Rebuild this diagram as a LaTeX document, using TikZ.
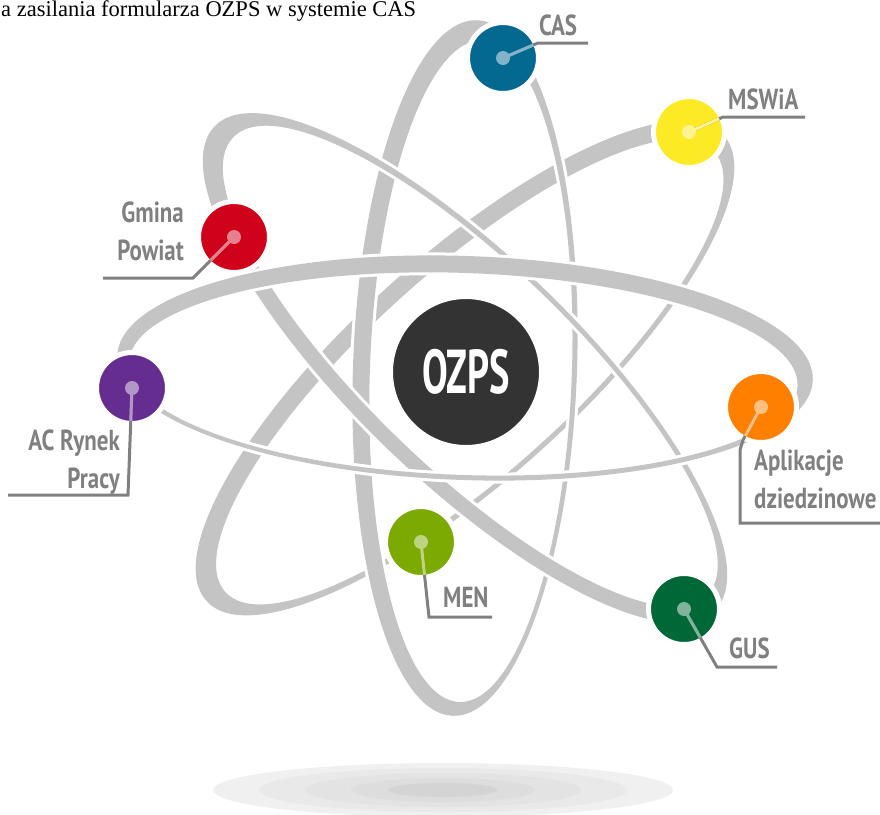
\documentclass[tikz,border=0pt]{standalone}
\usepackage{fontspec}
\setmainfont{Liberation Serif}
\newfontfamily\labfont{PT Sans}[FakeStretch=0.79]
\newfontfamily\ozfont{PT Sans}[FakeStretch=0.62]
\definecolor{orbitgray}{RGB}{196,196,196}
\definecolor{labelgray}{RGB}{128,128,128}
\definecolor{ozgray}{RGB}{51,51,51}
\definecolor{cascol}{RGB}{4,105,145}
\definecolor{mswcol}{RGB}{252,234,36}
\definecolor{gmicol}{RGB}{208,2,27}
\definecolor{accol}{RGB}{102,45,145}
\definecolor{aplcol}{RGB}{255,128,0}
\definecolor{mencol}{RGB}{124,170,0}
\definecolor{guscol}{RGB}{0,104,55}
\definecolor{shA}{RGB}{240,240,240}
\definecolor{shB}{RGB}{233,233,233}
\definecolor{shC}{RGB}{227,227,227}
\definecolor{shD}{RGB}{221,221,221}
\definecolor{shE}{RGB}{212,212,212}
\tikzset{
  orbitfill/.style={fill=orbitgray, even odd rule},
  orbitgap/.style={draw=white, line width=6pt},
  planet/.style={circle, fill=#1, draw=white, line width=5pt, minimum size=71pt, inner sep=0pt},
  pdot/.style={circle, fill=#1!50!white, minimum size=14pt, inner sep=0pt},
  pointer/.style={draw=labelgray, line width=3pt},
  ptint/.style={draw=#1!50!white, line width=3pt},
  labeltext/.style={text=labelgray, font=\labfont\bfseries\fontsize{29}{38}\selectfont, inner sep=0pt},
}
\newcommand\atomorbit[5]{%
  \begin{scope}[shift={(465,368)}, rotate=#1]
    \draw[orbitgap] (0,0) ellipse [x radius=348pt, y radius=112pt]
                    (#2,#3) ellipse [x radius=#4pt, y radius=#5pt];
    \fill[orbitfill] (0,0) ellipse [x radius=348pt, y radius=112pt]
                    (#2,#3) ellipse [x radius=#4pt, y radius=#5pt];
  \end{scope}}
\newcommand\pointertint[3]{%
  \begin{scope}
    \clip (#1.center) circle (33pt);
    \draw[ptint=#3] (#1.center) -- (#2);
  \end{scope}}
\begin{document}
\begin{tikzpicture}[x=1pt, y=-1pt]
\useasboundingbox (0,0) rectangle (880,814);
% caption
\node[anchor=base west, inner sep=0pt, font=\fontsize{22.5}{22.5}\selectfont] (caption) at (1,16) {a zasilania formularza OZPS w systemie CAS};
% shadow
\fill[shA] (443,790) ellipse [x radius=230pt, y radius=27pt];
\fill[shB] (443,790) ellipse [x radius=184pt, y radius=22pt];
\fill[shC] (443,790) ellipse [x radius=138pt, y radius=17pt];
\fill[shD] (443,790) ellipse [x radius=92pt, y radius=12pt];
\fill[shE] (443,790) ellipse [x radius=55pt, y radius=7pt];
% orbits
\atomorbit{42}{1}{6}{329}{101}
\atomorbit{88}{-3}{6}{331}{101}
\atomorbit{-44}{2.5}{-5}{329.5}{102}
\atomorbit{-2}{-1.5}{6}{334.5}{101}
% nucleus
\node[circle, fill=ozgray, draw=white, line width=5pt, minimum size=151pt, inner sep=0pt, text=white,
      font=\ozfont\bfseries\fontsize{62}{62}\selectfont] (ozps) at (466,372) {OZPS};
% planets
\node[planet=cascol] (cas) at (503,58) {};
\node[planet=mswcol] (msw) at (689,132) {};
\node[planet=gmicol] (gmi) at (234,237) {};
\node[planet=accol]  (ac)  at (132,388) {};
\node[planet=aplcol] (apl) at (761,407) {};
\node[planet=mencol] (men) at (421,542) {};
\node[planet=guscol] (gus) at (684,609) {};
% pointer coordinates
\coordinate (casbend) at (538,43);  \coordinate (casend) at (588,43);
\coordinate (mswbend) at (723,117); \coordinate (mswend) at (805,117);
\coordinate (gmibend) at (193,278); \coordinate (gmiend) at (103,278);
\coordinate (acbend)  at (128,495); \coordinate (acend)  at (8,495);
\coordinate (aplbend) at (743,440); \coordinate (aplbendb) at (740,450);
\coordinate (aplbendc) at (740,523); \coordinate (aplend) at (890,523);
\coordinate (menbend) at (429,617); \coordinate (menend) at (492,617);
\coordinate (gusbend) at (717,667); \coordinate (gusend) at (777,667);
% pointers
\draw[pointer] (cas.center) -- (casbend) -- (casend);
\draw[pointer] (msw.center) -- (mswbend) -- (mswend);
\draw[pointer] (gmi.center) -- (gmibend) -- (gmiend);
\draw[pointer] (ac.center) -- (acbend) -- (acend);
\draw[pointer] (apl.center) -- (aplbend) -- (aplbendb) -- (aplbendc) -- (aplend);
\draw[pointer] (men.center) -- (menbend) -- (menend);
\draw[pointer] (gus.center) -- (gusbend) -- (gusend);
\pointertint{cas}{casbend}{cascol}
\pointertint{msw}{mswbend}{mswcol}
\pointertint{gmi}{gmibend}{gmicol}
\pointertint{ac}{acbend}{accol}
\pointertint{apl}{aplbend}{aplcol}
\pointertint{men}{menbend}{mencol}
\pointertint{gus}{gusbend}{guscol}
\node[pdot=cascol] (casdot) at (cas.center) {};
\node[pdot=mswcol] (mswdot) at (msw.center) {};
\node[pdot=gmicol] (gmidot) at (gmi.center) {};
\node[pdot=accol]  (acdot)  at (ac.center) {};
\node[pdot=aplcol] (apldot) at (apl.center) {};
\node[pdot=mencol] (mendot) at (men.center) {};
\node[pdot=guscol] (gusdot) at (gus.center) {};
% labels
\node[labeltext, anchor=base west] (castext) at (539,35) {CAS};
\node[labeltext, anchor=base west] (mswtext) at (728,109) {MSWiA};
\node[labeltext, anchor=north east, align=right] (gmitext) at (184,202) {Gmina\\Powiat};
\node[labeltext, anchor=north east, align=right] (actext) at (120,430) {AC Rynek\\Pracy};
\node[labeltext, anchor=north west, align=left] (apltext) at (754,450) {Aplikacje\\dziedzinowe};
\node[labeltext, anchor=base west] (mentext) at (443,607) {MEN};
\node[labeltext, anchor=base west] (gustext) at (729,658) {GUS};
\end{tikzpicture}
\end{document}
